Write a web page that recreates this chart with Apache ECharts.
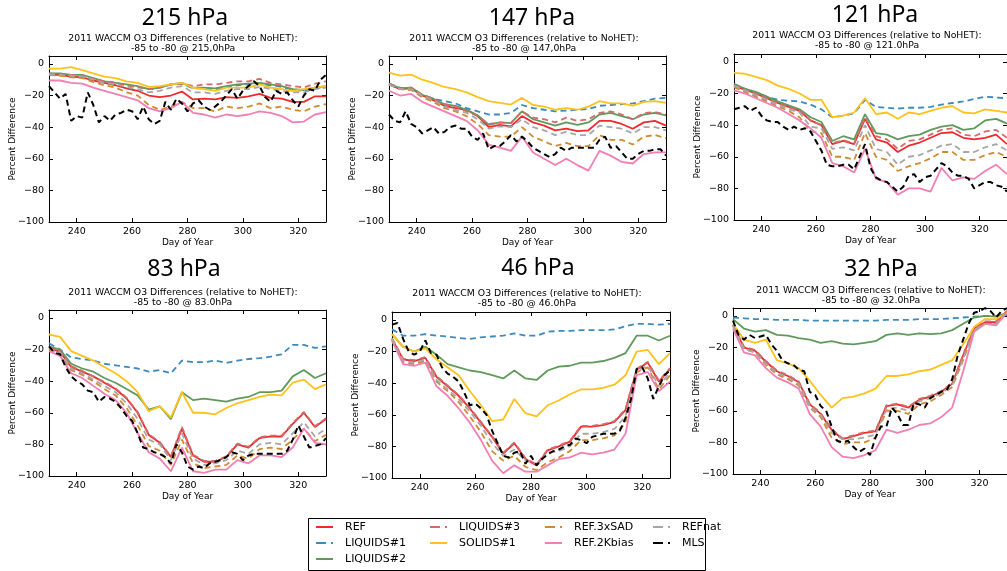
<!DOCTYPE html>
<html>
<head>
<meta charset="utf-8">
<script src="https://cdn.jsdelivr.net/npm/echarts@6/dist/echarts.min.js"></script>
<style>
  html, body { margin: 0; padding: 0; background: #fff; }
  #chart { width: 1007px; height: 571px; }
</style>
</head>
<body>
<div id="chart"></div>
<script>
// Model days (every 4 days) and MLS observation days (every 2 days)
const days = [230,234,238,242,246,250,254,258,262,266,270,274,278,282,286,290,294,298,302,306,310,314,318,322,326,330];
const mlsDays = [230,232,234,236,238,240,242,244,246,248,250,252,254,256,258,260,262,264,266,268,270,272,274,276,278,280,282,284,286,288,290,292,294,296,298,300,302,304,306,308,310,312,314,316,318,320,322,324,326,328,330];

const seriesNames = ['REF','LIQUIDS#1','LIQUIDS#2','LIQUIDS#3','SOLIDS#1','REF.3xSAD','REF.2Kbias','REFnat','MLS'];
const xTicks = [240,260,280,300,320];
const yTicks = [-100,-80,-60,-40,-20,0];

// ---- 215 hPa ----
const ref215  = [-7,-7,-8,-8.5,-10.5,-12,-13.5,-15.5,-17,-20,-21,-20,-17.5,-22.5,-22,-22.5,-21,-21.5,-20.5,-19,-21.5,-22,-24,-24,-20.5,-20.5];
const liq1_215 = [-6.5,-6.5,-7,-7.5,-9.5,-11,-12,-13.5,-14.5,-16,-15,-13,-12.5,-15.5,-15.5,-16,-14.5,-13.5,-13,-12.5,-13.5,-14.5,-16.5,-17,-15.5,-14.5];
const liq2_215 = [-6,-6,-7,-7,-9,-11,-12,-13,-14,-16,-15,-13,-12,-15,-15,-15.5,-14,-13,-12.5,-12,-13,-14,-16,-16.5,-15,-14];
const liq3_215 = [-6,-6.5,-7,-7.5,-9.5,-11,-12,-13.5,-14.5,-16,-15,-13,-12.5,-14,-13,-13,-12,-11,-11,-9.5,-12,-13,-14,-15,-12.5,-11];
const sol215  = [-3,-3,-2,-4,-6,-8,-9,-11,-12,-14.5,-14,-13,-12,-15,-16,-17,-15,-15,-15,-13,-15,-16,-17,-16,-15,-14];
const sad215  = [-7,-7.5,-8.5,-9,-11.5,-13.5,-15,-18,-20,-26,-29,-27,-24,-28,-28,-30,-27,-28,-27,-25,-28,-27,-29,-30,-27,-25.5];
const kb215   = [-10.5,-10.5,-12,-12.5,-15,-17,-19,-21,-23,-28,-30,-28,-24,-31,-32,-34,-32,-33,-32,-30,-31,-33,-37,-36.5,-32,-30.5];
const nat215  = [-6.5,-7,-7.5,-8,-10,-12,-13,-14.5,-16,-18,-17,-15,-14,-18,-18,-19,-17,-16,-16,-14.5,-16,-17,-18,-18,-16,-15];
const mls215  = [-14,-18,-22,-19,-36,-33,-34,-18,-26,-37,-33,-36,-32,-31,-29,-30,-35,-27,-35,-38,-36,-24,-29,-22,-25,-30,-25,-23,-27,-29,-27,-24,-20,-16,-22,-17,-14,-11,-14,-21,-24,-17,-19,-18,-23,-27,-20,-16,-17,-10,-7];

// ---- 147 hPa ----
const ref147  = [-13,-16,-15.5,-20,-23,-26.5,-28,-29,-33,-40,-38.5,-39.5,-33,-37,-39,-42,-41,-42.5,-42,-36,-36,-38,-41,-37,-36,-39];
const liq1_147 = [-12.5,-15,-16,-19.5,-22,-23.5,-25,-28,-30,-32,-32,-31,-26,-28,-29,-30,-29.5,-29,-28.5,-26.5,-26,-25.5,-25,-23.5,-22,-21.5];
const liq2_147 = [-12.5,-15.5,-15,-19.5,-22,-25.5,-26.5,-29,-32.5,-38.5,-37,-37.5,-30,-35,-37,-39,-37,-38.5,-37,-32,-31,-33,-35,-32,-31,-32.5];
const liq3_147 = [-12.5,-15.5,-15,-19.5,-22,-25.5,-27,-30,-33,-38,-37,-37.5,-30,-34,-35,-37,-34,-36,-35,-31,-30,-32,-35,-31,-30.5,-32];
const sol147  = [-5.5,-7.4,-6.8,-10,-12,-14.6,-16,-18,-21,-23.6,-24.7,-25.7,-21.5,-26,-27,-29,-28,-29,-27,-23.6,-25,-25,-26.4,-24,-23.6,-24.7];
const sad147  = [-13,-16,-16.5,-21,-24,-28,-30,-33,-38,-45,-46,-46,-40,-46,-49,-52,-50,-52,-52,-45,-48,-48,-51,-46,-45,-47];
const kb147   = [-17,-20,-19,-24,-27,-30,-33,-36,-42,-51,-53,-55,-46,-56,-60,-64,-60,-64,-67.5,-55,-58,-62,-63,-57,-56,-56];
const nat147  = [-13,-16,-16,-20,-23,-27,-29,-31,-35,-41,-39.5,-40,-35,-40,-42,-45,-43,-45,-45,-39,-40,-41,-44,-40,-40,-42];
const mls147  = [-32,-36,-37,-30,-38,-40,-44,-42,-40,-44,-43,-40,-39,-41,-41,-46,-48,-44,-54,-52,-52,-49,-45,-49,-46,-49,-53,-55,-57,-59,-57,-53,-55,-53,-53,-53,-53,-53,-48,-46,-53,-52,-56,-60,-60,-57,-55,-55,-54,-54,-58];

// ---- 121 hPa ----
const ref121  = [-15,-17.5,-20,-23,-26,-28.5,-31,-37,-40,-52,-50,-52,-36,-49,-51,-57,-53,-51,-48,-45,-44.5,-48,-49,-48,-46,-52];
const liq1_121 = [-14,-17,-19.5,-22,-24,-24.5,-25,-27,-30,-35,-34,-32.5,-24,-28.5,-29,-29.5,-29,-29,-28.5,-27,-26,-25,-23.5,-22,-22.5,-23];
const liq2_121 = [-14,-17,-19,-22,-25,-27.5,-30,-35,-38,-50,-47,-49,-33,-45,-46,-49,-47,-46,-43,-41,-40,-43,-42,-37,-36,-39];
const liq3_121 = [-15,-17.5,-20,-23,-26,-28.5,-31,-37,-40,-51.5,-49.5,-51.5,-35,-47,-49,-55,-50,-49,-46,-43,-42,-46,-47,-44,-43,-48];
const sol121  = [-7,-7.5,-9.5,-11.5,-15,-17,-20,-24,-24,-35,-34,-32,-23,-33,-32,-36,-32,-33,-31,-29,-28,-32,-32.5,-30,-31,-32];
const sad121  = [-16,-19,-22,-25,-28,-31,-35,-44,-45,-60,-60,-62,-45,-60,-62,-69,-66,-64,-61,-57,-57,-62,-62,-59,-57,-60];
const kb121   = [-18,-20,-23,-26,-29,-33,-37,-42,-48,-64,-66,-70,-55,-74,-76,-84,-80,-80,-82,-67,-75,-73,-74,-69,-65,-71];
const nat121  = [-15,-18,-21,-24,-27,-30,-32,-41,-42,-55,-54,-56,-40,-55,-57,-65,-60,-59,-56,-53,-52,-57,-57,-54,-52,-56];
const mls121  = [-30,-29,-28,-31,-29,-34,-37,-38,-38,-41,-43,-41,-43,-42,-44,-50,-56,-65,-66,-66,-65,-65,-68,-60,-52,-67,-73,-75,-76,-79,-82,-79,-72,-71,-76,-73,-72,-68,-64,-66,-70,-72,-72,-74,-80,-78,-76,-76,-78,-79,-82];

// ---- 83 hPa ----
const ref83   = [-19,-21.5,-31,-34,-37,-41,-45,-51,-60,-74,-79,-88,-70,-87,-91,-91,-88,-80,-82,-76,-75,-75,-67,-60,-69,-64];
const liq1_83 = [-16,-20,-25,-26,-27,-29,-30,-31,-32,-34,-33,-35,-27,-28,-28,-27,-28.5,-27,-26,-25.5,-24.5,-23,-17,-17,-19,-18];
const liq2_83 = [-18,-20,-29,-32,-34,-38,-41,-45,-49,-58,-56,-64,-47,-52,-51,-52,-53,-51,-50,-47,-47,-46,-37,-33,-38,-35];
const liq3_83 = [-18.5,-21,-30.5,-33.5,-37,-40.5,-44.5,-50.5,-59.5,-73.5,-78.5,-87.5,-69,-86.5,-90.5,-90.5,-87.5,-79.5,-81.5,-75.5,-74.5,-74.5,-66.5,-59.5,-68.5,-63.5];
const sol83   = [-10.5,-12,-21,-24,-27,-31,-35,-40,-47,-59,-56,-63,-47,-60,-60,-61,-57,-54,-52,-50,-48.5,-49,-41,-39,-45,-42];
const sad83   = [-20,-22.5,-33,-36,-40,-45,-49,-57,-68,-81,-84,-93,-77,-92,-95,-94,-93,-87,-89,-83,-82,-83,-77,-70,-78,-74];
const kb83    = [-21,-24,-35,-38,-43,-48,-52,-60,-73,-85,-89,-97,-82,-97,-98,-96,-96,-90,-92,-87,-87,-88,-82,-70,-79,-80];
const nat83   = [-19,-22,-32,-35,-39,-43,-47,-54,-64,-77,-80,-90,-73,-89,-93,-92,-90,-84,-86,-80,-79,-80,-73,-66,-75,-70];
const mls83   = [-18,-22,-23,-31,-37,-40,-42,-46,-47,-53,-50,-51,-53,-57,-62,-65,-73,-82,-83,-85,-86,-88,-92,-80,-85,-94,-96,-94,-95,-92,-91,-90,-88,-85,-86,-90,-87,-86,-86,-86,-86,-86,-86,-84,-77,-68,-75,-82,-81,-80,-76];

// ---- 46 hPa ----
const ref46   = [-12,-25,-26,-24,-36,-42,-48,-56,-65,-74,-84.5,-78,-88,-92,-82.5,-80,-77,-67.5,-67.5,-66.5,-64.5,-57,-31.5,-27,-39,-31];
const liq1_46 = [-6,-10,-10,-9,-10,-10.5,-11.5,-12,-11,-10.5,-10,-8.5,-10,-10,-7.5,-7,-7,-6.5,-6.5,-6.5,-6,-4,-2.5,-2.5,-3,-2.5];
const liq2_46 = [-9,-17,-20,-17,-22,-28,-30,-32,-33,-35,-37,-32,-37,-38,-32,-29.5,-29,-27,-27,-26,-24,-21,-10,-10,-13,-10];
const liq3_46 = [-11.5,-24.5,-25.5,-23.5,-35.5,-41.5,-47.5,-55.5,-64.5,-73.5,-84,-77.5,-87.5,-91.5,-82,-79.5,-76.5,-67,-67,-66,-64,-56.5,-31,-26.5,-38.5,-30.5];
const sol46   = [-9,-17,-20,-18,-25,-30,-35,-45,-54,-64,-63,-50,-59,-61,-54,-51,-47,-44,-44,-43,-41,-35,-20,-19,-28,-21];
const sad46   = [-13,-27,-28,-26,-39,-45,-52,-61,-71,-83,-89,-86,-93,-95,-90,-87,-83,-76,-76,-75,-73,-65,-33,-30,-44,-35];
const kb46    = [-13,-28,-29,-27,-42,-48,-56,-65,-76,-89,-97,-92,-96,-96,-92,-88,-87,-84,-85,-84,-82,-72,-35,-33,-45,-39];
const nat46   = [-12,-26,-27,-25,-38,-44,-50,-58,-67,-78,-86,-82,-89,-91,-84,-83,-80,-72,-72,-71,-69,-61,-32,-29,-42,-33];
const mls46   = [-3,-2,-12,-20,-22,-20,-13,-21,-22,-30,-34,-36,-39,-46,-54,-53,-56,-60,-70,-78,-86,-87,-84,-83,-91,-86,-92,-88,-85,-83,-82,-80,-79,-75,-76,-78,-74,-73,-72,-72,-72,-70,-62,-50,-31,-30,-37,-50,-42,-35,-32];

// ---- 32 hPa ----
const ref32   = [-6,-20,-22,-29,-35,-38,-42,-56,-62,-72,-78,-76,-74,-73,-57,-56,-58,-53,-51,-48,-43,-25,-8,-4,-4,3];
const liq1_32 = [-1,-1.5,-2,-2,-2.5,-2.5,-2.5,-3,-3,-3,-3,-3,-3,-3,-2.5,-2.5,-2.5,-2,-2,-2,-1.5,-1,-0.5,0,0,0.5];
const liq2_32 = [-2,-8,-10,-9,-12,-12.5,-14,-15,-17,-16,-17.5,-18,-17,-16,-12,-11,-12,-11,-11.5,-11,-9,-5,-1,0,-0.5,2];
const liq3_32 = [-5.5,-19.5,-21.5,-28.5,-34.5,-37.5,-41.5,-55.5,-61.5,-71.5,-77.5,-75.5,-73.5,-72.5,-56.5,-55.5,-57.5,-52.5,-50.5,-47.5,-42.5,-24.5,-7.5,-3.5,-3.5,3];
const sol32   = [-5,-15,-17,-15,-28,-30,-33,-41,-50,-58,-52,-51,-49,-46,-38,-38,-37,-35,-34,-31,-28,-18,-7,-2,-2,2];
const sad32   = [-6,-21,-23,-31,-37,-40,-44,-58,-64,-77,-81,-80,-80,-77,-60,-60,-62,-56,-54,-50,-45,-28,-9,-5,-5,3];
const kb32    = [-8,-23,-25,-33,-39,-42,-46,-62,-70,-83,-89,-90,-88,-85,-72,-74,-72,-69,-68,-64,-58,-35,-10,-5,-6,2];
const nat32   = [-6,-21,-23,-30,-36,-39,-43,-57,-63,-74,-78,-78,-77,-75,-59,-58,-60,-54,-52,-49,-44,-27,-9,-5,-5,3];
const mls32   = [-3,-12,-15,-12,-14,-13,-12,-18,-22,-28,-30,-31,-34,-35,-48,-50,-57,-60,-70,-79,-80,-79,-83,-86,-84,-88,-77,-70,-70,-58,-62,-69,-69,-55,-56,-58,-52,-50,-48,-47,-40,-25,-15,-5,2,3,5,3,-1,3,5];

const panels = [
  { title: '215 hPa', level: '215,0hPa', model: [ref215, liq1_215, liq2_215, liq3_215, sol215, sad215, kb215, nat215], mls: mls215 },
  { title: '147 hPa', level: '147,0hPa', model: [ref147, liq1_147, liq2_147, liq3_147, sol147, sad147, kb147, nat147], mls: mls147 },
  { title: '121 hPa', level: '121.0hPa', model: [ref121, liq1_121, liq2_121, liq3_121, sol121, sad121, kb121, nat121], mls: mls121 },
  { title: '83 hPa',  level: '83.0hPa',  model: [ref83, liq1_83, liq2_83, liq3_83, sol83, sad83, kb83, nat83], mls: mls83 },
  { title: '46 hPa',  level: '46.0hPa',  model: [ref46, liq1_46, liq2_46, liq3_46, sol46, sad46, kb46, nat46], mls: mls46 },
  { title: '32 hPa',  level: '32.0hPa',  model: [ref32, liq1_32, liq2_32, liq3_32, sol32, sad32, kb32, nat32], mls: mls32 }
];

// Plot frames and heading positions
const frames = [
  { left: 49,  top: 56,  width: 277, height: 166, tx: 185, ty: 18,  sx: 183, sy: 39 },
  { left: 389, top: 56,  width: 277, height: 166, tx: 532, ty: 18,  sx: 524, sy: 39 },
  { left: 734, top: 54,  width: 280, height: 166, tx: 875, ty: 15,  sx: 867, sy: 36 },
  { left: 49,  top: 310, width: 277, height: 166, tx: 184, ty: 269, sx: 183, sy: 293 },
  { left: 392, top: 312, width: 278, height: 166, tx: 538, ty: 268, sx: 527, sy: 294 },
  { left: 733, top: 308, width: 281, height: 166, tx: 881, ty: 269, sx: 871, sy: 291 }
];

const lineStyles = {
  'REF':        { color: '#ee2a2c', dashed: false },
  'LIQUIDS#1':  { color: '#3b8ac0', dashed: true },
  'LIQUIDS#2':  { color: '#5f9a5c', dashed: false },
  'LIQUIDS#3':  { color: '#d36b6b', dashed: true },
  'SOLIDS#1':   { color: '#ffc21a', dashed: false },
  'REF.3xSAD':  { color: '#cf8b2d', dashed: true },
  'REF.2Kbias': { color: '#f27eb3', dashed: false },
  'REFnat':     { color: '#a6a6a6', dashed: true },
  'MLS':        { color: '#000000', dashed: true }
};

const FONT = 'DejaVu Sans';
const minusFmt = v => (v < 0 ? '\u2212' + (-v) : String(v));

const grids = [], xAxes = [], yAxes = [], series = [], graphics = [];

frames.forEach((f, i) => {
  grids.push({ left: f.left, top: f.top, width: f.width, height: f.height, containLabel: false });
  const common = {
    gridIndex: i, type: 'value',
    axisLine: { show: true, onZero: false, lineStyle: { color: '#000', width: 1 } },
    splitLine: { show: false }
  };
  xAxes.push(Object.assign({}, common, {
    position: 'bottom', min: 230, max: 330,
    axisTick: { inside: true, length: 4, customValues: xTicks, lineStyle: { color: '#000' } },
    axisLabel: { customValues: xTicks, fontSize: 9.5, color: '#000', fontFamily: FONT, margin: 5 },
    name: 'Day of Year', nameLocation: 'middle', nameGap: 16, nameMoveOverlap: false,
    nameTextStyle: { fontSize: 9, color: '#000', fontFamily: FONT }
  }));
  xAxes.push(Object.assign({}, common, {
    position: 'top', min: 230, max: 330,
    axisTick: { inside: true, length: 4, customValues: xTicks, lineStyle: { color: '#000' } },
    axisLabel: { show: false }
  }));
  yAxes.push(Object.assign({}, common, {
    position: 'left', min: -100, max: 5,
    axisTick: { inside: true, length: 4, customValues: yTicks, lineStyle: { color: '#000' } },
    axisLabel: { customValues: yTicks, fontSize: 9.5, color: '#000', fontFamily: FONT, margin: 5, formatter: minusFmt },
    name: 'Percent Difference', nameLocation: 'middle', nameGap: 32, nameMoveOverlap: false,
    nameTextStyle: { fontSize: 9, color: '#000', fontFamily: FONT }
  }));
  yAxes.push(Object.assign({}, common, {
    position: 'right', min: -100, max: 5,
    axisTick: { inside: true, length: 4, customValues: yTicks, lineStyle: { color: '#000' } },
    axisLabel: { show: false }
  }));

  const p = panels[i];
  seriesNames.forEach((name, k) => {
    const st = lineStyles[name];
    const isMls = name === 'MLS';
    const xs = isMls ? mlsDays : days;
    const ys = isMls ? p.mls : p.model[k];
    series.push({
      name: name, type: 'line',
      xAxisIndex: 2 * i, yAxisIndex: 2 * i,
      data: xs.map((d, j) => [d, ys[j]]),
      symbol: 'none', smooth: false, silent: true,
      color: st.color,
      lineStyle: { color: st.color, width: isMls ? 2 : 1.8, type: st.dashed ? [6, 4] : 'solid' },
      z: 2 + k
    });
  });

  graphics.push({
    type: 'text', x: f.tx, y: f.ty,
    style: { text: p.title, font: '23px "Noto Sans"', fill: '#000', textAlign: 'center', textVerticalAlign: 'middle' }
  });
  graphics.push({
    type: 'text', x: f.sx, y: f.sy,
    style: { text: '2011 WACCM O3 Differences (relative to NoHET):', font: '9.3px "DejaVu Sans"', fill: '#000', textAlign: 'center', textVerticalAlign: 'middle' }
  });
  graphics.push({
    type: 'text', x: f.sx, y: f.sy + 10,
    style: { text: '-85 to -80 @ ' + p.level, font: '9.3px "DejaVu Sans"', fill: '#000', textAlign: 'center', textVerticalAlign: 'middle' }
  });
});

// Legend box
graphics.push({
  type: 'rect', z: 0,
  shape: { x: 308.5, y: 518.5, width: 397, height: 52 },
  style: { fill: '#fff', stroke: '#000', lineWidth: 1 }
});

const dashIcon = 'path://M0,0H10V2H0Z M15,0H17V2H15Z';
const solidIcon = 'path://M0,0H17V2H0Z';
const legendColumns = [
  { x: 316, names: ['REF', 'LIQUIDS#1', 'LIQUIDS#2'] },
  { x: 430, names: ['LIQUIDS#3', 'SOLIDS#1'] },
  { x: 545, names: ['REF.3xSAD', 'REF.2Kbias'] },
  { x: 653, names: ['REFnat', 'MLS'] }
];
const legends = legendColumns.map(col => ({
  orient: 'vertical', left: col.x, top: 520, padding: 0,
  itemWidth: 17, itemHeight: 2, itemGap: 2, symbolKeepAspect: false,
  selectedMode: false,
  textStyle: { fontSize: 11, fontFamily: FONT, color: '#000', lineHeight: 14, padding: [0, 0, 0, 7] },
  data: col.names.map(n => ({
    name: n,
    icon: lineStyles[n].dashed ? dashIcon : solidIcon,
    itemStyle: { color: lineStyles[n].color, borderWidth: 0 }
  }))
}));

const chart = echarts.init(document.getElementById('chart'), null, { renderer: 'canvas' });
chart.setOption({
  animation: false,
  backgroundColor: '#fff',
  grid: grids,
  xAxis: xAxes,
  yAxis: yAxes,
  legend: legends,
  graphic: graphics,
  series: series
});
</script>
</body>
</html>
